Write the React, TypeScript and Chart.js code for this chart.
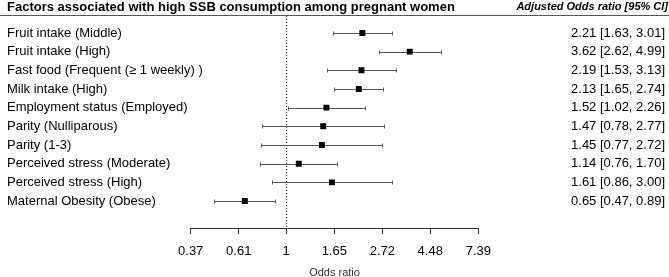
import React, { useEffect, useRef } from "react";
import { Chart, registerables } from "chart.js";

Chart.register(...registerables);

const chartTitle = "Factors associated with high SSB consumption among pregnant women";
const columnHeader = "Adjusted Odds ratio [95% CI]";
const axisTitle = "Odds ratio";

const factors = [
  "Fruit intake (Middle)",
  "Fruit intake (High)",
  "Fast food (Frequent (\u2265 1 weekly) )",
  "Milk intake (High)",
  "Employment status (Employed)",
  "Parity (Nulliparous)",
  "Parity (1-3)",
  "Perceived stress (Moderate)",
  "Perceived stress (High)",
  "Maternal Obesity (Obese)",
];
const oddsRatios = [2.21, 3.62, 2.19, 2.13, 1.52, 1.47, 1.45, 1.14, 1.61, 0.65];
const lowerCI = [1.63, 2.62, 1.53, 1.65, 1.02, 0.78, 0.77, 0.76, 0.86, 0.47];
const upperCI = [3.01, 4.99, 3.13, 2.74, 2.26, 2.77, 2.72, 1.7, 3.0, 0.89];
const tickLabels = ["0.37", "0.61", "1", "1.65", "2.72", "4.48", "7.39"];

const FONT = '"Liberation Sans", Arial, Helvetica, sans-serif';

const forestPlugin = {
  id: "forest",
  beforeDatasetsDraw(chart: any) {
    const { ctx, chartArea, scales } = chart;
    const x = scales.x;
    const y = scales.y;
    ctx.save();
    // reference line at OR = 1
    const x1 = Math.round(x.getPixelForValue(1)) + 0.5;
    ctx.strokeStyle = "#333";
    ctx.lineWidth = 1;
    ctx.setLineDash([1, 2]);
    ctx.beginPath();
    ctx.moveTo(x1, chartArea.top + 1);
    ctx.lineTo(x1, chartArea.bottom);
    ctx.stroke();
    ctx.setLineDash([]);
    // whiskers
    ctx.strokeStyle = "#555";
    factors.forEach((_, i) => {
      const py = Math.round(y.getPixelForValue(i)) + 0.5;
      const xl = Math.round(x.getPixelForValue(lowerCI[i])) + 0.5;
      const xh = Math.round(x.getPixelForValue(upperCI[i])) + 0.5;
      ctx.beginPath();
      ctx.moveTo(xl, py);
      ctx.lineTo(xh, py);
      ctx.moveTo(xl, py - 2);
      ctx.lineTo(xl, py + 2);
      ctx.moveTo(xh, py - 2);
      ctx.lineTo(xh, py + 2);
      ctx.stroke();
    });
    ctx.restore();
  },
  afterDraw(chart: any) {
    const { ctx, width, chartArea, scales } = chart;
    const y = scales.y;
    ctx.save();
    // header rule
    ctx.strokeStyle = "#555";
    ctx.lineWidth = 1;
    ctx.beginPath();
    ctx.moveTo(0, Math.round(chartArea.top) + 0.5);
    ctx.lineTo(width, Math.round(chartArea.top) + 0.5);
    ctx.stroke();
    // titles
    ctx.fillStyle = "#000";
    ctx.textBaseline = "middle";
    ctx.textAlign = "left";
    ctx.font = `bold 13px ${FONT}`;
    ctx.fillText(chartTitle, 7, 7);
    ctx.textAlign = "right";
    ctx.font = `italic bold 11px ${FONT}`;
    ctx.fillText(columnHeader, 668, 7);
    // row labels and values
    ctx.font = `13px ${FONT}`;
    factors.forEach((f, i) => {
      const py = y.getPixelForValue(i);
      ctx.textAlign = "left";
      ctx.fillText(f, 7, py);
      ctx.textAlign = "right";
      ctx.fillText(
        `${oddsRatios[i].toFixed(2)} [${lowerCI[i].toFixed(2)}, ${upperCI[i].toFixed(2)}]`,
        665,
        py
      );
    });
    ctx.restore();
  },
};

export default function App() {
  const ref = useRef<HTMLCanvasElement>(null);
  useEffect(() => {
    if (!ref.current) return;
    const tickValues = tickLabels.map(Number);
    const chart = new Chart(ref.current, {
      type: "scatter",
      data: {
        datasets: [
          {
            data: oddsRatios.map((v, i) => ({ x: v, y: i })),
            pointStyle: "rect",
            pointRadius: 4.2,
            pointHoverRadius: 4.2,
            borderWidth: 0,
            backgroundColor: "#000",
          },
        ],
      },
      options: {
        animation: false,
        responsive: false,
        devicePixelRatio: 1,
        events: [],
        layout: { padding: { left: 190.7, right: 190.7, top: 15, bottom: 0 } },
        plugins: { legend: { display: false }, tooltip: { enabled: false } },
        scales: {
          x: {
            type: "logarithmic",
            min: tickValues[0],
            max: tickValues[tickValues.length - 1],
            afterBuildTicks: (scale: any) => {
              scale.ticks = tickValues.map((v) => ({ value: v }));
            },
            afterFit: (scale: any) => {
              scale.height = 48.7;
            },
            ticks: {
              autoSkip: false,
              maxRotation: 0,
              padding: 9,
              color: "#000",
              font: { family: FONT, size: 13 },
              callback: (_v: any, idx: number) => tickLabels[idx],
            },
            grid: {
              display: true,
              drawOnChartArea: false,
              drawTicks: true,
              tickLength: 6,
              color: "#333",
            },
            border: { display: true, color: "#333", width: 1 },
            title: {
              display: true,
              text: axisTitle,
              color: "#333",
              font: { family: FONT, size: 11, lineHeight: 0.8 },
              padding: 0,
            },
          },
          y: {
            type: "linear",
            reverse: true,
            min: -0.96,
            max: 10.46,
            display: false,
          },
        },
      },
      plugins: [forestPlugin],
    });
    return () => chart.destroy();
  }, []);
  return (
    <div style={{ position: "absolute", left: 0, top: 0, width: 669, height: 277 }}>
      <canvas ref={ref} width={669} height={277} style={{ display: "block" }} />
    </div>
  );
}
